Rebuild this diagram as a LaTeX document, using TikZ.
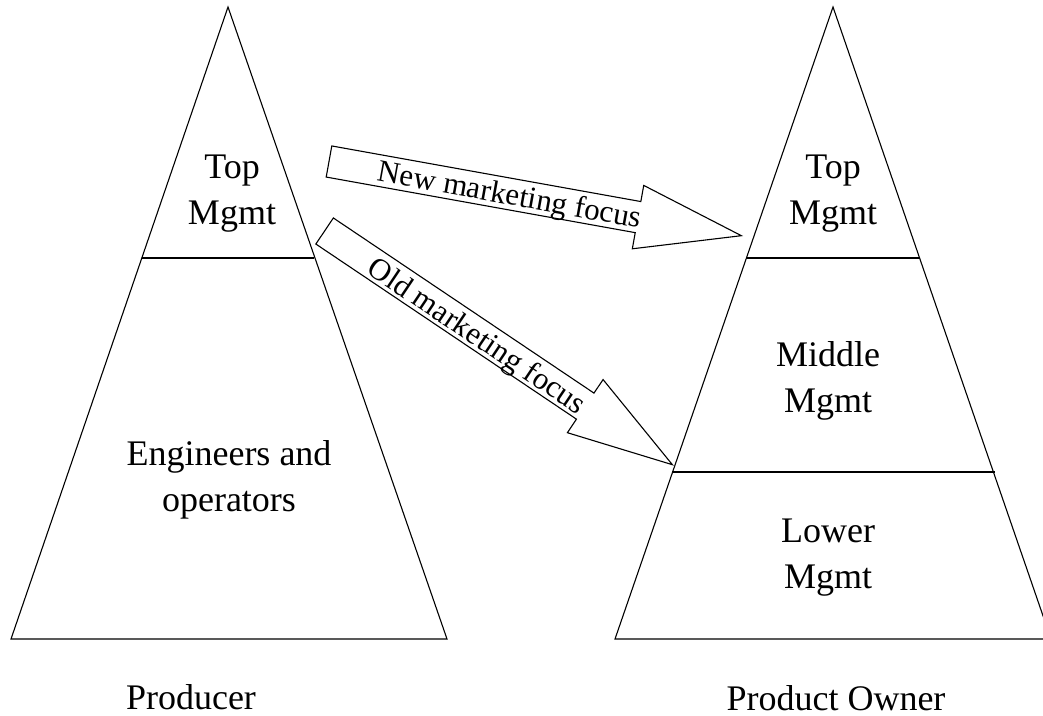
\documentclass[tikz,border=0pt]{standalone}
\usepackage{fontspec}
\setmainfont{Liberation Serif}
\begin{document}
\begin{tikzpicture}[x=1pt,y=-1pt,
  edge/.style={draw=black,line width=1.1pt,line join=miter},
  tier/.style={font=\fontsize{36}{46}\selectfont,align=center,inner sep=0pt},
  caption/.style={font=\fontsize{36}{46}\selectfont,anchor=base,inner sep=0pt},
  blockarrow/.style={draw=black,fill=white,line width=1.1pt,line join=miter},
  arrowtext/.style={font=\fontsize{31}{36}\selectfont,inner sep=0pt,transform shape}]
\useasboundingbox (0,0) rectangle (1043,715);
\clip (0,0) rectangle (1043,715);

% Producer pyramid
\coordinate (pa) at (228,7);
\coordinate (pl) at (11,639);
\coordinate (pr) at (447,639);
\draw[edge] (pa) -- (pl) -- (pr) -- cycle;
\draw[edge] (142,258) -- (314,258);
\node[tier] (ptop) at (232,194) {Top\\Mgmt};
\node[tier] (peng) at (229,480) {Engineers and\\operators};
\node[caption] (producer) at (191,709) {Producer};

% Product owner pyramid
\coordinate (oa) at (833,7);
\coordinate (ol) at (615,639);
\coordinate (or) at (1051,639);
\draw[edge] (oa) -- (ol) -- (or) -- cycle;
\draw[edge] (746,258) -- (920,258);
\draw[edge] (672,472) -- (995,472);
\node[tier] (otop) at (833,194) {Top\\Mgmt};
\node[tier] (omid) at (828,381) {Middle\\Mgmt};
\node[tier] (olow) at (828,558) {Lower\\Mgmt};
\node[caption] (owner) at (836,710) {Product Owner};

% New marketing focus arrow
\begin{scope}[shift={(329,161.5)},rotate=-10.2]
  \draw[blockarrow] (0,-15.8) -- (314,-15.8) -- (314,-32.2) -- (419,0)
    -- (314,32.2) -- (314,15.8) -- (0,15.8) -- cycle;
  \node[arrowtext] (newfocus) at (184,3) {New marketing focus};
\end{scope}

% Old marketing focus arrow
\begin{scope}[shift={(324.6,231)},rotate=-33.9]
  \draw[blockarrow] (0,-15.7) -- (314,-15.7) -- (314,-32) -- (419,0)
    -- (314,32) -- (314,15.7) -- (0,15.7) -- cycle;
  \node[arrowtext] (oldfocus) at (185,4) {Old marketing focus};
\end{scope}
\end{tikzpicture}
\end{document}
